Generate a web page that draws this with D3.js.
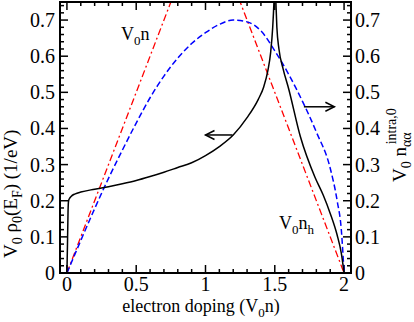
<!DOCTYPE html>
<html>
<head>
<meta charset="utf-8">
<script src="https://cdn.jsdelivr.net/npm/d3@7"></script>
<style>
  body { margin: 0; background: #fff; }
  text { font-family: "Liberation Serif", "DejaVu Serif", serif; fill: #000; }
</style>
</head>
<body>
<svg id="chart" width="414" height="322"></svg>
<script>
// density of states (black, left axis)
const dopingBlack = [0, 0.004, 0.008, 0.012, 0.02, 0.03, 0.06, 0.1, 0.2, 0.3, 0.4, 0.5, 0.6, 0.7, 0.8, 0.9, 1.0, 1.1, 1.2, 1.3, 1.38, 1.42, 1.45, 1.47, 1.485, 1.495, 1.5,
  1.505, 1.515, 1.53, 1.56, 1.6, 1.685, 1.79, 1.85, 1.9, 1.95, 1.98, 2.0];
const rhoBlack = [0, 0.08, 0.17, 0.2, 0.207, 0.212, 0.219, 0.224, 0.232, 0.239, 0.247, 0.256, 0.267, 0.279, 0.292, 0.305, 0.325, 0.35, 0.382, 0.43, 0.48, 0.515, 0.56, 0.61, 0.68, 0.76, 0.82,
  0.78, 0.68, 0.62, 0.565, 0.51, 0.377, 0.265, 0.215, 0.165, 0.105, 0.055, 0];

// intra-orbital density (blue dashed, right axis)
const dopingBlue = [0, 0.1, 0.2, 0.3, 0.4, 0.5, 0.6, 0.7, 0.8, 0.9, 1.0, 1.1, 1.2, 1.3, 1.4, 1.5, 1.6, 1.7, 1.8, 1.9, 1.95, 1.98, 2.0];
const nIntraBlue = [0, 0.09, 0.178, 0.262, 0.34, 0.415, 0.485, 0.545, 0.595, 0.635, 0.665, 0.688, 0.70, 0.695, 0.67, 0.615, 0.55, 0.475, 0.39, 0.29, 0.2, 0.12, 0];

// V0 n and V0 n_h (red dash-dot)
const dopingRed = [0, 1, 2];
const nRed = [0, 1, 0];

const xTicks = [0, 0.5, 1, 1.5, 2];
const xTickLabels = ["0", "0.5", "1", "1.5", "2"];
const yTicks = [0, 0.1, 0.2, 0.3, 0.4, 0.5, 0.6, 0.7];
const yTickLabels = ["0", "0.1", "0.2", "0.3", "0.4", "0.5", "0.6", "0.7"];

const svg = d3.select("#chart");
const frameL = 60, frameR = 351, frameT = 2, frameB = 273;

const x = d3.scaleLinear().domain([-0.05, 2.05]).range([frameL, frameR]);
const y = d3.scaleLinear().domain([0, 0.75]).range([frameB, frameT]);

svg.append("defs").append("clipPath").attr("id", "clip")
  .append("rect")
  .attr("x", frameL).attr("y", frameT)
  .attr("width", frameR - frameL).attr("height", frameB - frameT);

const minorX = d3.range(0, 2.0001, 0.1).map(v => +v.toFixed(2));
const minorY = d3.range(0, 0.7501, 0.02).map(v => +v.toFixed(2));

// ticks, pointing into the frame
function drawTicks(g, vals, isMajor, side) {
  const len = isMajor ? 8 : 4;
  const horiz = side === "bottom" || side === "top";
  g.selectAll(null).data(vals).enter().append("line")
    .attr("x1", d => horiz ? x(d) : (side === "left" ? frameL : frameR))
    .attr("x2", d => horiz ? x(d) : (side === "left" ? frameL + len : frameR - len))
    .attr("y1", d => !horiz ? y(d) : (side === "bottom" ? frameB : frameT))
    .attr("y2", d => !horiz ? y(d) : (side === "bottom" ? frameB - len : frameT + len))
    .attr("stroke", "#000").attr("stroke-width", 1.5);
}
const tickG = svg.append("g");
["bottom", "top"].forEach(s => {
  drawTicks(tickG, minorX.filter(v => !xTicks.includes(v)), false, s);
  drawTicks(tickG, xTicks, true, s);
});
["left", "right"].forEach(s => {
  drawTicks(tickG, minorY.filter(v => !yTicks.some(t => Math.abs(t - v) < 1e-6)), false, s);
  drawTicks(tickG, yTicks, true, s);
});

// tick labels
svg.append("g").selectAll("text").data(xTicks).enter().append("text")
  .attr("x", d => x(d)).attr("y", 291)
  .attr("text-anchor", "middle").attr("font-size", 20)
  .text((d, i) => xTickLabels[i]);
svg.append("g").selectAll("text").data(yTicks).enter().append("text")
  .attr("x", 55).attr("y", d => y(d) + 7)
  .attr("text-anchor", "end").attr("font-size", 20)
  .text((d, i) => yTickLabels[i]);
svg.append("g").selectAll("text").data(yTicks).enter().append("text")
  .attr("x", 355).attr("y", d => y(d) + 7)
  .attr("text-anchor", "start").attr("font-size", 20)
  .text((d, i) => yTickLabels[i]);

// curves
const plot = svg.append("g").attr("clip-path", "url(#clip)");
const lineGen = d3.line().x(d => x(d[0])).y(d => y(d[1]));

plot.append("path")
  .datum(dopingRed.map((d, i) => [d, nRed[i]]))
  .attr("d", lineGen)
  .attr("fill", "none").attr("stroke", "#ff0000").attr("stroke-width", 1.3)
  .attr("stroke-dasharray", "7,3,2,3");

plot.append("path")
  .datum(dopingBlue.map((d, i) => [d, nIntraBlue[i]]))
  .attr("d", lineGen.curve(d3.curveMonotoneX))
  .attr("fill", "none").attr("stroke", "#0000ff").attr("stroke-width", 1.5)
  .attr("stroke-dasharray", "6,3");

plot.append("path")
  .datum(dopingBlack.map((d, i) => [d, rhoBlack[i]]))
  .attr("d", lineGen.curve(d3.curveMonotoneX))
  .attr("fill", "none").attr("stroke", "#000").attr("stroke-width", 1.5);

// frame
svg.append("rect")
  .attr("x", frameL).attr("y", frameT)
  .attr("width", frameR - frameL).attr("height", frameB - frameT)
  .attr("fill", "none").attr("stroke", "#000").attr("stroke-width", 2);

// arrows pointing to the axis each curve belongs to
function arrow(x1, x2, yv) {
  const g = svg.append("g").attr("stroke", "#000").attr("stroke-width", 1.5).attr("fill", "none");
  const px1 = x(x1), px2 = x(x2), py = y(yv);
  const dir = px2 > px1 ? -1 : 1;
  g.append("line").attr("x1", px1).attr("x2", px2).attr("y1", py).attr("y2", py);
  g.append("path").attr("d", `M${px2 + dir * 9},${py - 4.5}L${px2},${py}L${px2 + dir * 9},${py + 4.5}`);
}
arrow(1.195, 1.0, 0.382);
arrow(1.71, 1.93, 0.46);

// curve labels
const lab1 = svg.append("text").attr("x", 121).attr("y", 40).attr("font-size", 18);
lab1.append("tspan").text("V");
lab1.append("tspan").attr("font-size", 13).attr("dy", 5).text("0");
lab1.append("tspan").attr("dy", -5).text("n");

const lab2 = svg.append("text").attr("x", 279).attr("y", 229).attr("font-size", 18);
lab2.append("tspan").text("V");
lab2.append("tspan").attr("font-size", 13).attr("dy", 5).text("0");
lab2.append("tspan").attr("dy", -5).text("n");
lab2.append("tspan").attr("font-size", 13).attr("dy", 5).text("h");

// axis titles
const xl = svg.append("text").attr("x", 201).attr("y", 312)
  .attr("text-anchor", "middle").attr("font-size", 18);
xl.append("tspan").text("electron doping (V");
xl.append("tspan").attr("font-size", 13).attr("dy", 5).text("0");
xl.append("tspan").attr("dy", -5).text("n)");

const yl = svg.append("text").attr("transform", "translate(17,258) rotate(-90)")
  .attr("font-size", 19);
yl.append("tspan").text("V");
yl.append("tspan").attr("font-size", 14).attr("dy", 5).text("0");
yl.append("tspan").attr("dy", -5).text(" ρ");
yl.append("tspan").attr("font-size", 14).attr("dy", 5).text("0");
yl.append("tspan").attr("dy", -5).text("(E");
yl.append("tspan").attr("font-size", 14).attr("dy", 5).text("F");
yl.append("tspan").attr("dy", -5).text(") (1/eV)");

const yr = svg.append("text").attr("transform", "translate(406,182) rotate(-90)")
  .attr("font-size", 19);
yr.append("tspan").text("V");
yr.append("tspan").attr("font-size", 14).attr("dy", 5).text("0");
yr.append("tspan").attr("dy", -5).text(" n");
yr.append("tspan").attr("font-size", 14).attr("dy", 5).text("αα");
yr.append("tspan").attr("font-size", 14).attr("dx", -12).attr("dy", -15).text("intra,0");
</script>
</body>
</html>
